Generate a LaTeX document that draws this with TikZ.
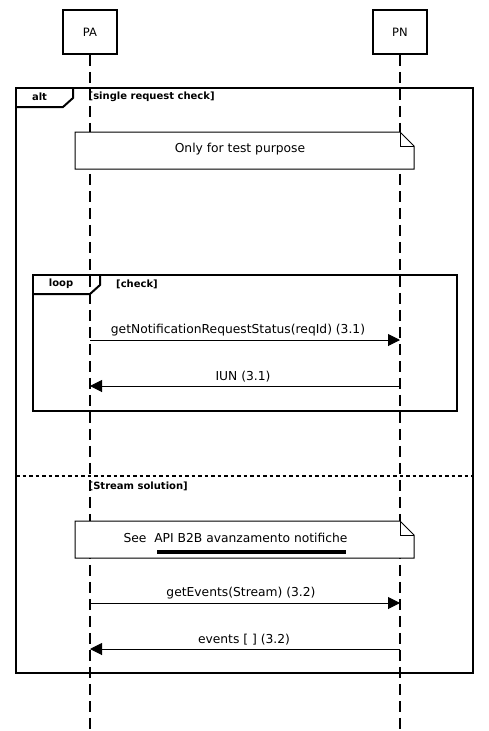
\documentclass[tikz,border=0pt]{standalone}
\usepackage{fontspec}
\setmainfont{DejaVu Sans}
\usetikzlibrary{positioning, arrows.meta, calc}

\begin{document}
\begin{tikzpicture}[x=1pt, y=-1pt,
    actor/.style={draw, line width=1.8pt, minimum width=54pt, minimum height=44pt,
                  inner sep=0pt, font=\fontsize{11.5}{13}\selectfont},
    lifeline/.style={line width=1.2pt, dash pattern=on 11pt off 6pt},
    frame/.style={line width=2pt},
    guard/.style={font=\fontsize{10}{12}\selectfont\bfseries, anchor=west, inner sep=0pt},
    notebox/.style={line width=1pt, fill=white},
    msg/.style={line width=1pt, -{Triangle[length=12pt, width=12pt]}},
    msglabel/.style={font=\fontsize{12.3}{14}\selectfont, inner sep=0pt}]
  \useasboundingbox (0,0) rectangle (489,731);

  % participants and lifelines
  \node[actor] (pa) at (90,32) {PA};
  \node[actor] (pn) at (400,32) {PN};
  \coordinate (pa end) at (90,731);
  \coordinate (pn end) at (400,731);
  \draw[lifeline] (pa.south) -- (pa end);
  \draw[lifeline] (pn.south) -- (pn end);

  % alt fragment
  \draw[frame] (16,88) rectangle (473,673);
  \draw[frame] (16,107) -- (63,107) -- (73,98) -- (73,88);
  \node[guard, anchor=center] (alt) at (39.5,97) {alt};
  \node[guard] (altg) at (88.5,97) {[single request check]};

  % first note
  \draw[notebox] (75,132) -- (400,132) -- (414,146) -- (414,169) -- (75,169) -- cycle;
  \draw[line width=1pt] (400,132) |- (414,146);
  \node[msglabel] (note1) at (240,149) {Only for test purpose};

  % loop fragment
  \draw[frame] (32.5,275) rectangle (457,411);
  \draw[frame] (32.5,294) -- (90,294) -- (100,285) -- (100,275);
  \node[guard, anchor=center] (loop) at (61,284) {loop};
  \node[guard] (loopg) at (116,284) {[check]};

  \coordinate (pa1) at (90,340);
  \coordinate (pn1) at (400,340);
  \draw[msg] (pa1) -- node[msglabel, above=3.5pt, xshift=-7pt] {getNotificationRequestStatus(reqId) (3.1)} (pn1);
  \coordinate (pa2) at (90,386);
  \coordinate (pn2) at (400,386);
  \draw[msg] (pn2) -- node[msglabel, above=3.5pt, xshift=-2pt] {IUN (3.1)} (pa2);

  % alternative separator
  \draw[line width=1.5pt, dash pattern=on 3.5pt off 3pt] (16,476) -- (473,476);
  \node[guard] (streamg) at (88.5,486) {[Stream solution]};

  % second note
  \draw[notebox] (75,521) -- (400,521) -- (414,535) -- (414,558) -- (75,558) -- cycle;
  \draw[line width=1pt] (400,521) |- (414,535);
  \node[msglabel] (note2) at (235.5,538) {See\ \ API B2B avanzamento notifiche};
  \fill (157,549.5) rectangle (346,554);

  \coordinate (pa3) at (90,603);
  \coordinate (pn3) at (400,603);
  \draw[msg] (pa3) -- node[msglabel, above=3.5pt, xshift=-4pt] {getEvents(Stream) (3.2)} (pn3);
  \coordinate (pa4) at (90,649);
  \coordinate (pn4) at (400,649);
  \draw[msg] (pn4) -- node[msglabel, above=3.5pt, xshift=-1pt] {events [ ] (3.2)} (pa4);
\end{tikzpicture}
\end{document}
